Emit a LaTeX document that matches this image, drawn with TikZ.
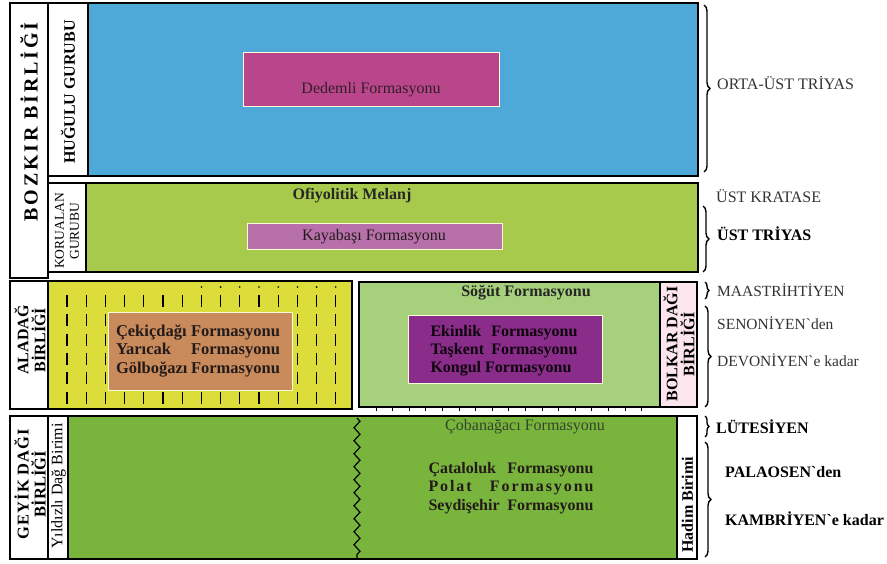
\documentclass[tikz,border=0pt]{standalone}
\usepackage{fontspec}
\setmainfont{Liberation Serif}[Ligatures=TeXOff]
\usetikzlibrary{decorations.pathreplacing,decorations.pathmorphing}
\definecolor{blueF}{HTML}{4EA9D9}
\definecolor{dedemliF}{HTML}{B9468B}
\definecolor{ofiF}{HTML}{A8CA4C}
\definecolor{kayaF}{HTML}{B770A9}
\definecolor{yelF}{HTML}{DCDC3A}
\definecolor{cekF}{HTML}{C98B5B}
\definecolor{sogutF}{HTML}{A6D07C}
\definecolor{ekinF}{HTML}{8A2C89}
\definecolor{botF}{HTML}{79B53D}
\definecolor{pinkF}{HTML}{FDE5EE}
\definecolor{txtD}{HTML}{231A1A}
\definecolor{txtG}{HTML}{34452A}
\begin{document}
\begin{tikzpicture}[x=1pt,y=-1pt,
  box/.style={draw=black, line width=1.8pt},
  inbox/.style={draw=white!85!yellow, line width=1pt},
  vlab/.style={font=\fontsize{16}{17}\selectfont\bfseries, align=center, inner sep=0pt, rotate=90},
  rlab/.style={font=\fontsize{16}{18}\selectfont, anchor=west, inner sep=0pt, text=black!80},
  rlabb/.style={font=\fontsize{16}{18}\selectfont\bfseries, anchor=west, inner sep=0pt},
  brc/.style={decorate, decoration={brace, amplitude=6pt}, line width=1.4pt},
  fm/.style={font=\fontsize{16}{18}\selectfont, inner sep=0pt, text=txtD},
  fmb/.style={font=\fontsize{16.5}{18.5}\selectfont\bfseries, inner sep=0pt, align=center, text=txtD}
]
\useasboundingbox (0,0) rectangle (887,564);
\fill[white] (0,0) rectangle (887,564);

% ---------- top row ----------
\draw[box, fill=white] (10,3) rectangle (48,278);
\draw[box, fill=white] (48,3) rectangle (88,176);
\draw[box, fill=blueF] (88,3) rectangle (698,176);
\draw[box, fill=white] (48,183) rectangle (86,272);
\draw[box, fill=ofiF] (86,183) rectangle (698,272);
\draw[inbox, fill=dedemliF] (243,53) rectangle (499,107);
\draw[inbox, fill=kayaF] (247,224) rectangle (502,250);

\node[vlab, font=\fontsize{20}{21}\selectfont\bfseries\addfontfeatures{LetterSpace=14}] (bozkir) at (29,122) {BOZKIR BİRLİĞİ};
\node[vlab] (hugulu) at (68,92) {HUĞULU GURUBU};
\node[vlab, font=\fontsize{13.5}{15}\selectfont] (korualan) at (67,231) {KORUALAN\\GURUBU};
\node[fm, text=txtD!90!dedemliF] (dedemli) at (371,90) {Dedemli Formasyonu};
\node[fm, font=\fontsize{16}{18}\selectfont\bfseries, text=black!85] (ofi) at (352,196) {Ofiyolitik Melanj};
\node[fm] (kaya) at (374,237) {Kayabaşı Formasyonu};

% ---------- middle row ----------
\draw[box, fill=white] (10,281) rectangle (48,409);
\draw[box, fill=yelF] (48,281) rectangle (352,409);
\begin{scope}
\clip (49,282) rectangle (351,408);
\foreach \i in {0,...,14} {
  \pgfmathsetmacro{\xx}{67+19.2*\i}
  \draw[line width=1.1pt, dash pattern=on 12pt off 7.3pt] (\xx,295) -- (\xx,404);
}
\foreach \i in {7,...,14} {
  \pgfmathsetmacro{\xx}{67+19.2*\i}
  \fill (\xx,287) circle (0.9);
}
\end{scope}
\draw[inbox, fill=cekF] (108,313) rectangle (292,390);
\node[vlab] (aladag) at (30,340) {ALADAĞ\\BİRLİĞİ};
\node[fmb] (cek) at (198,351) {\makebox[164pt][s]{Çekiçdağı Formasyonu}\\\makebox[164pt][s]{Yarıcak Formasyonu}\\\makebox[164pt][s]{Gölboğazı Formasyonu}};

\draw[box, fill=sogutF] (359,282) rectangle (660,407);
\foreach \i in {0,...,16} {
  \pgfmathsetmacro{\xx}{376+16.6*\i}
  \draw[line width=0.9pt] (\xx,407) -- (\xx,411);
}
\draw[inbox, fill=ekinF] (408,316) rectangle (602,383);
\node[fmb, font=\fontsize{16}{18}\selectfont\bfseries, text=black!85] (sogut) at (526,293) {Söğüt Formasyonu};
\node[fmb, font=\fontsize{16}{18}\selectfont\bfseries, text=black!90!ekinF] (ekin) at (504,351) {\makebox[147pt][s]{Ekinlik Formasyonu}\\\makebox[147pt][s]{Taşkent Formasyonu}\\\makebox[147pt][l]{Kongul Formasyonu}};
\draw[box, fill=pinkF] (660,282) rectangle (697,407);
\node[vlab] (bolkar) at (679,344) {BOLKAR DAĞI\\BİRLİĞİ};

% ---------- bottom row ----------
\draw[box, fill=white] (10,416) rectangle (48,559);
\draw[box, fill=white] (48,416) rectangle (68,559);
\draw[box, fill=botF] (68,416) rectangle (677,559);
\draw[box, fill=white] (677,416) rectangle (697,559);
\draw[line width=1.2pt, decorate, decoration={zigzag, segment length=13pt, amplitude=3pt}] (357,418) -- (357,558);
\node[vlab, font=\fontsize{16.5}{17}\selectfont\bfseries] (geyik) at (30,484) {\addfontfeatures{LetterSpace=6}GEYİK DAĞI\\BİRLİĞİ};
\node[vlab, font=\fontsize{16}{17}\selectfont] (yildizli) at (58.5,486) {Yıldızlı Dağ Birimi};
\node[vlab] (hadim) at (687.5,505) {Hadim Birimi};
\node[fm, text=txtG] (coban) at (525,427) {Çobanağacı Formasyonu};
\node[fmb, font=\fontsize{16}{18.5}\selectfont\bfseries] (catal) at (511,488) {\makebox[165pt][s]{Çataloluk Formasyonu}\\\makebox[165pt][s]{\addfontfeatures{LetterSpace=12}Polat Formasyonu}\\\makebox[165pt][s]{Seydişehir Formasyonu}};

% ---------- right labels ----------
\coordinate (b1a) at (704,5);   \coordinate (b1b) at (704,172);
\coordinate (b2a) at (703,206); \coordinate (b2b) at (703,272);
\coordinate (b3a) at (705,282); \coordinate (b3b) at (705,299);
\coordinate (b4a) at (705,306); \coordinate (b4b) at (705,407);
\coordinate (b5a) at (705,416); \coordinate (b5b) at (705,437);
\coordinate (b6a) at (705,442); \coordinate (b6b) at (705,557);
\draw[brc] (b1a) -- (b1b);
\draw[brc] (b2a) -- (b2b);
\draw[brc, decoration={brace, amplitude=4pt}] (b3a) -- (b3b);
\draw[brc] (b4a) -- (b4b);
\draw[brc, decoration={brace, amplitude=4pt}] (b5a) -- (b5b);
\draw[brc] (b6a) -- (b6b);

\node[rlab] (orta) at (717,83) {ORTA-ÜST TRİYAS};
\node[rlab] (kratase) at (716,196) {ÜST KRATASE};
\node[rlabb] (usttri) at (717,234) {ÜST TRİYAS};
\node[rlab, font=\fontsize{15.5}{18}\selectfont] (maas) at (717,290) {MAASTRİHTİYEN};
\node[rlab, font=\fontsize{15.5}{18}\selectfont] (seno) at (717,323) {SENONİYEN`den};
\node[rlab, font=\fontsize{15.5}{18}\selectfont] (devo) at (717,360) {DEVONİYEN`e kadar};
\node[rlabb] (lutes) at (716,427) {LÜTESİYEN};
\node[rlabb] (palao) at (725,472) {PALAOSEN`den};
\node[rlabb] (kamb) at (725,519) {KAMBRİYEN`e kadar};
\end{tikzpicture}
\end{document}
